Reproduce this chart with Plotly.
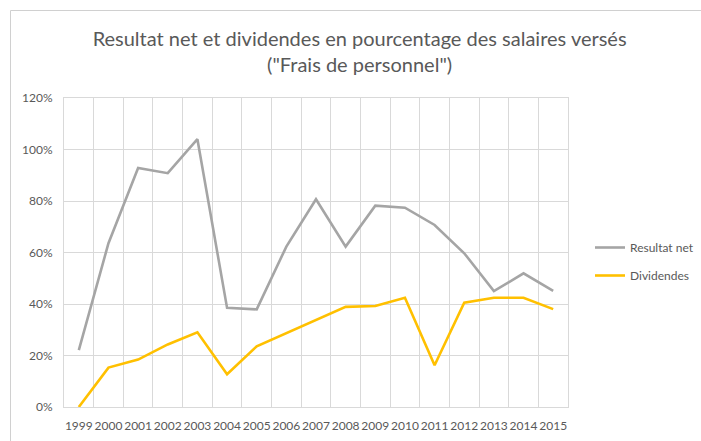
import plotly.graph_objects as go

years = [str(y) for y in range(1999, 2016)]
resultat_net = [22.1, 63.6, 92.8, 90.8, 104.0, 38.5, 37.9, 62.3, 80.7, 62.3, 78.2, 77.4, 70.7, 59.7, 45.0, 51.9, 45.1]
dividendes = [0.0, 15.3, 18.4, 24.3, 29.0, 12.7, 23.6, 28.8, 33.7, 38.9, 39.2, 42.4, 16.2, 40.5, 42.4, 42.4, 38.0]

title_text = 'Resultat net et dividendes en pourcentage des salaires versés<br>("Frais de personnel")'
FONT = "Lato"
GREY_TXT = "#595959"

fig = go.Figure()
fig.add_trace(go.Scatter(x=years, y=[v / 100 for v in resultat_net], mode="lines",
                         name="Resultat net", legendgroup="a",
                         line=dict(color="#A5A5A5", width=2.6)))
fig.add_trace(go.Scatter(x=years, y=[v / 100 for v in dividendes], mode="lines",
                         name="Dividendes", legendgroup="b",
                         line=dict(color="#FFC000", width=2.6)))

L, R, T, B = 64, 133, 98, 34
W, H = 701, 441
pw, ph = W - L - R, H - T - B

fig.update_layout(
    width=W, height=H,
    margin=dict(l=L, r=R, t=T, b=B, autoexpand=False),
    paper_bgcolor="white", plot_bgcolor="white",
    font=dict(family=FONT, size=12, color=GREY_TXT),
    title=dict(text=title_text, x=0.513, xanchor="center", y=1 - 46 / H, yanchor="middle",
               font=dict(family=FONT, size=20, color=GREY_TXT)),
    showlegend=True,
    legend=dict(x=(590 - L) / pw, y=1 - (233 - T) / ph, xanchor="left", yanchor="top",
                font=dict(family=FONT, size=12, color=GREY_TXT),
                itemwidth=30, tracegroupgap=9, traceorder="grouped",
                bgcolor="rgba(0,0,0,0)"),
    xaxis=dict(type="category", range=[-0.5, 16.5], tickson="boundaries",
               showgrid=True, gridcolor="#D9D9D9", gridwidth=1, tickangle=0,
               showline=True, linecolor="#D9D9D9", mirror=True, ticks="",
               automargin=False, ticklabelstandoff=8,
               tickfont=dict(family=FONT, size=12, color=GREY_TXT), zeroline=False),
    yaxis=dict(range=[0, 1.2], dtick=0.2, tickformat=".0%",
               showgrid=True, gridcolor="#D9D9D9", gridwidth=1,
               showline=True, linecolor="#D9D9D9", mirror=True, ticks="",
               ticklabelstandoff=8, automargin=False,
               tickfont=dict(family=FONT, size=12, color=GREY_TXT), zeroline=False),
)

# outer chart border (left & top edges visible), drawn as an inset rectangle
bx = (10.5 - L) / pw
by = 1 + (T - 10.5) / ph
fig.add_shape(type="rect", xref="paper", yref="paper",
              x0=bx, x1=(W + 20 - L) / pw, y0=-(B + 20) / ph, y1=by,
              line=dict(color="#D0D0D0", width=1), fillcolor="rgba(0,0,0,0)", layer="above")

fig.write_html("out.html", config={"displayModeBar": False},
               post_script="document.body.style.margin='0';document.body.style.overflow='hidden';")
